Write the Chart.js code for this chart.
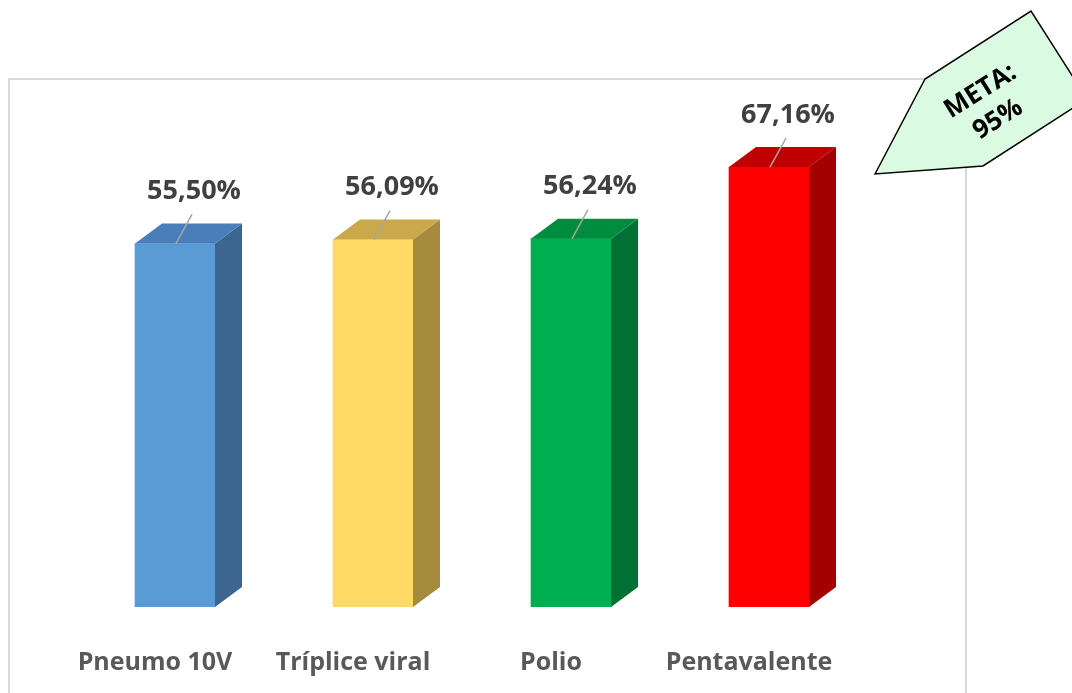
<!DOCTYPE html>
<html>
<head>
<meta charset="utf-8">
<script src="https://cdn.jsdelivr.net/npm/chart.js@4"></script>
<style>
  html, body { margin: 0; padding: 0; background: #fff; }
  #wrap { width: 1072px; height: 693px; }
</style>
</head>
<body>
<div id="wrap"><canvas id="chart" width="1072" height="693"></canvas></div>
<script>
const categories = ['Pneumo 10V', 'Tríplice viral', 'Polio', 'Pentavalente'];
const coverage = [55.50, 56.09, 56.24, 67.16];
const frontColors = ['#5b9bd5', '#ffd966', '#00b050', '#ff0000'];
const topColors = ['#4a7ebb', '#c9a94a', '#008c3f', '#c00000'];
const sideColors = ['#3c6690', '#a68a3d', '#007034', '#a30000'];
const goalText = ['META:', '95%'];

const DEPTH_X = 27;
const DEPTH_Y = 20;

function fmt(v) {
    return v.toFixed(2).replace('.', ',') + '%';
}

// frame around the plot like the Excel chart area
const framePlugin = {
    id: 'frame',
    beforeDraw(chart) {
        const ctx = chart.ctx;
        ctx.save();
        ctx.strokeStyle = '#d9d9d9';
        ctx.lineWidth = 2;
        ctx.strokeRect(9, 79, 957, 640);
        ctx.restore();
    }
};

// side + top faces, data labels with leader lines
const bar3dPlugin = {
    id: 'bar3d',
    afterDatasetsDraw(chart) {
        const ctx = chart.ctx;
        const meta = chart.getDatasetMeta(0);
        meta.data.forEach((bar, i) => {
            const left = bar.x - bar.width / 2;
            const right = bar.x + bar.width / 2;
            const top = bar.y;
            const base = bar.base;

            ctx.save();
            // side
            ctx.fillStyle = sideColors[i];
            ctx.beginPath();
            ctx.moveTo(right, top);
            ctx.lineTo(right + DEPTH_X, top - DEPTH_Y);
            ctx.lineTo(right + DEPTH_X, base - DEPTH_Y);
            ctx.lineTo(right, base);
            ctx.closePath();
            ctx.fill();
            // top
            ctx.fillStyle = topColors[i];
            ctx.beginPath();
            ctx.moveTo(left, top);
            ctx.lineTo(left + DEPTH_X, top - DEPTH_Y);
            ctx.lineTo(right + DEPTH_X, top - DEPTH_Y);
            ctx.lineTo(right, top);
            ctx.closePath();
            ctx.fill();

            // leader line
            ctx.strokeStyle = '#a6a6a6';
            ctx.lineWidth = 1.5;
            ctx.beginPath();
            ctx.moveTo(bar.x + 1, top);
            ctx.lineTo(bar.x + 17, top - 29);
            ctx.stroke();

            // value label
            ctx.fillStyle = '#404040';
            ctx.font = 'bold 27px "Open Sans"';
            ctx.textAlign = 'center';
            ctx.textBaseline = 'middle';
            ctx.fillText(fmt(coverage[i]), bar.x + 19, top - 52);
            ctx.restore();
        });
    }
};

// "META: 95%" callout
const goalPlugin = {
    id: 'goal',
    afterDraw(chart) {
        const ctx = chart.ctx;
        ctx.save();
        ctx.fillStyle = '#dafbe1';
        ctx.strokeStyle = '#000';
        ctx.lineWidth = 1.5;
        ctx.beginPath();
        ctx.moveTo(875, 174);
        ctx.lineTo(925, 79);
        ctx.lineTo(1031, 11);
        ctx.lineTo(1087, 99);
        ctx.lineTo(983, 166);
        ctx.closePath();
        ctx.fill();
        ctx.stroke();

        ctx.translate(989, 105);
        ctx.rotate(-32 * Math.PI / 180);
        ctx.fillStyle = '#000';
        ctx.font = 'bold 26px "Open Sans"';
        ctx.textAlign = 'center';
        ctx.textBaseline = 'middle';
        ctx.fillText(goalText[0], 0, -16);
        ctx.fillText(goalText[1], 0, 17);
        ctx.restore();
    }
};

new Chart(document.getElementById('chart'), {
    type: 'bar',
    data: {
        labels: categories,
        datasets: [{
            data: coverage,
            backgroundColor: frontColors,
            borderWidth: 0,
            barThickness: 80
        }]
    },
    options: {
        responsive: false,
        animation: false,
        layout: {
            padding: { left: 76, right: 204, top: 83, bottom: 0 }
        },
        plugins: {
            legend: { display: false },
            tooltip: { enabled: false }
        },
        scales: {
            x: {
                grid: { display: false, drawTicks: false },
                border: { display: false },
                afterFit(scale) { scale.height = 86; },
                ticks: {
                    color: '#595959',
                    font: { family: 'Open Sans', size: 25, weight: 'bold' },
                    padding: 41,
                    minRotation: 0,
                    maxRotation: 0,
                    labelOffset: -20
                }
            },
            y: {
                display: false,
                min: 0,
                max: 80
            }
        }
    },
    plugins: [framePlugin, bar3dPlugin, goalPlugin]
});
</script>
</body>
</html>
